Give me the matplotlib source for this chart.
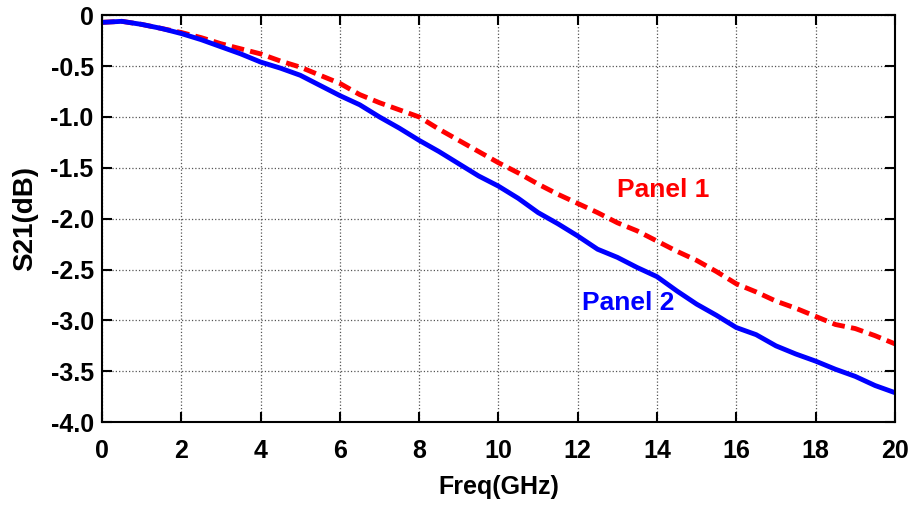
import matplotlib
matplotlib.use("Agg")
import matplotlib.pyplot as plt
from matplotlib.ticker import FixedLocator, FuncFormatter

plt.rcParams['font.family'] = ['Liberation Sans', 'DejaVu Sans']
plt.rcParams['font.weight'] = 'bold'

# Insertion loss S21 of the two panels versus frequency
freq_ghz = [0, 0.5, 1, 1.5, 2, 2.5, 3, 3.5, 4, 4.5, 5, 5.5, 6, 6.5, 7, 7.5, 8, 8.5,
            9, 9.5, 10, 10.5, 11, 11.5, 12, 12.5, 13, 13.5, 14, 14.5, 15, 15.5, 16,
            16.5, 17, 17.5, 18, 18.5, 19, 19.5, 20]
panel1_db = [-0.07, -0.06, -0.09, -0.13, -0.17, -0.22, -0.28, -0.33, -0.38, -0.45,
             -0.51, -0.59, -0.67, -0.78, -0.86, -0.93, -1.00, -1.12, -1.23, -1.34,
             -1.45, -1.55, -1.66, -1.76, -1.85, -1.94, -2.04, -2.12, -2.22, -2.32,
             -2.41, -2.52, -2.64, -2.72, -2.81, -2.88, -2.96, -3.04, -3.08, -3.15,
             -3.23]
panel2_db = [-0.07, -0.06, -0.09, -0.13, -0.18, -0.24, -0.31, -0.38, -0.46, -0.52,
             -0.59, -0.69, -0.79, -0.88, -1.00, -1.11, -1.23, -1.34, -1.46, -1.58,
             -1.68, -1.80, -1.94, -2.05, -2.17, -2.30, -2.38, -2.48, -2.57, -2.71,
             -2.84, -2.95, -3.07, -3.14, -3.25, -3.33, -3.40, -3.48, -3.55, -3.64,
             -3.71]

x_ticks = [0, 2, 4, 6, 8, 10, 12, 14, 16, 18, 20]
y_ticks = [0, -0.5, -1.0, -1.5, -2.0, -2.5, -3.0, -3.5, -4.0]

fig = plt.figure(figsize=(9.15, 5.08), dpi=100)
ax = fig.add_axes([0.1115, 0.169, 0.8665, 0.801])

ax.plot(freq_ghz, panel1_db, color='#ff0000', linestyle=(0, (2.6, 1.3)), linewidth=3.5)
ax.plot(freq_ghz, panel2_db, color='#0000ff', linestyle='-', linewidth=3.5)

ax.set_xlim(0, 20)
ax.set_ylim(-4.0, 0)
ax.xaxis.set_major_locator(FixedLocator(x_ticks))
ax.yaxis.set_major_locator(FixedLocator(y_ticks))
ax.yaxis.set_major_formatter(FuncFormatter(lambda v, p: '0' if v == 0 else f'{v:.1f}'))
ax.tick_params(direction='in', length=7, width=1.5, top=True, right=True,
               labelsize=18)
ax.tick_params(axis='x', pad=12)
ax.tick_params(axis='y', pad=6)
for lab in ax.get_xticklabels() + ax.get_yticklabels():
    lab.set_fontweight('bold')

ax.grid(True, linestyle=':', color='#555555', linewidth=0.9)
for s in ax.spines.values():
    s.set_linewidth(1.5)

ax.set_xlabel('Freq(GHz)', fontsize=18, fontweight='bold', labelpad=9)
ax.set_ylabel('S21(dB)', fontsize=20, fontweight='bold', labelpad=9)

ax.text(13.0, -1.72, 'Panel 1', color='#ff0000', fontsize=19, fontweight='bold',
        ha='left', va='center')
ax.text(12.1, -2.83, 'Panel 2', color='#0000ff', fontsize=19, fontweight='bold',
        ha='left', va='center')

fig.savefig('out.png', dpi=100)
